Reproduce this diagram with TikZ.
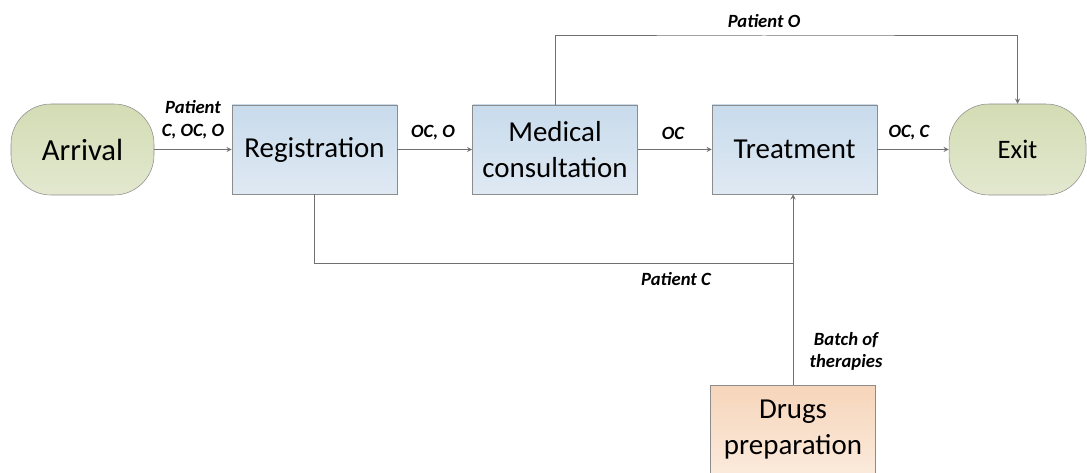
\documentclass[tikz,border=0pt]{standalone}
\usepackage{fontspec}
\setmainfont{Carlito}
\usepackage{xcolor}
\usepackage{tikz}
\usetikzlibrary{calc}

\definecolor{boxtop}{RGB}{200,219,236}
\definecolor{boxbot}{RGB}{223,233,243}
\definecolor{termtop}{RGB}{211,220,180}
\definecolor{termbot}{RGB}{227,232,207}
\definecolor{drugtop}{RGB}{246,213,186}
\definecolor{drugbot}{RGB}{251,234,220}
\definecolor{edgegray}{RGB}{140,140,140}
\definecolor{wiregray}{RGB}{112,112,112}

\tikzset{
  proc/.style={draw=edgegray, top color=boxtop, bottom color=boxbot,
    minimum width=123.75pt, minimum height=66.75pt, inner sep=0pt,
    align=center, font=\fontsize{21.7}{27}\selectfont},
  term/.style={proc, rounded corners=30pt, top color=termtop,
    bottom color=termbot, minimum height=68.25pt},
  lbl/.style={font=\fontsize{14}{17}\selectfont\bfseries\itshape,
    align=center, inner sep=0pt},
  wire/.style={draw=wiregray, line width=0.75pt}
}

\begin{document}
\begin{tikzpicture}[>=stealth, x=0.75pt, y=-0.75pt]
\useasboundingbox (0,0) rectangle (1087,473);
% main flow
\node[term, minimum width=107.25pt, font=\fontsize{23}{27}\selectfont] (arr) at (82.5,149.5) {Arrival};
\node[proc] (reg) at (314.5,149.5) {Registration};
\node[proc] (med) at (555,149.5) {Medical\\consultation};
\node[proc] (trt) at (794.5,149.5) {Treatment};
\node[term, minimum width=102.75pt, font=\fontsize{20}{24}\selectfont] (ext) at (1017.5,149.5) {Exit};
\node[proc, top color=drugtop, bottom color=drugbot] (drg) at (793,429.5) {Drugs\\preparation};
\draw[wire,->] (arr) -- (reg);
\draw[wire,->] (reg) -- (med);
\draw[wire,->] (med) -- (trt);
\draw[wire,->] (trt) -- (ext);
% side routes
\coordinate (pcy) at (0,264);
\coordinate (pc) at (drg.north |- pcy);
\coordinate (po) at (764,36);
\draw[wire,->] (drg.north) -- (drg.north |- trt.south);
\draw[wire] (reg.south) |- (pc);
\draw[wire,->] (med.north) |- (po) -| (ext.north);
% labels
\node[lbl] (lin) at (193,119.5) {Patient\\C, OC, O};
\node[lbl] (lrm) at (433,133) {OC, O};
\node[lbl] (lmt) at (673,133) {OC};
\node[lbl] (lte) at (909,133) {OC, C};
\node[lbl] (lpo) at (764,21) {Patient O};
\node[lbl] (lpc) at (676,279) {Patient C};
\node[lbl] (lbt) at (846,351.5) {Batch of\\therapies};
\end{tikzpicture}
\end{document}
